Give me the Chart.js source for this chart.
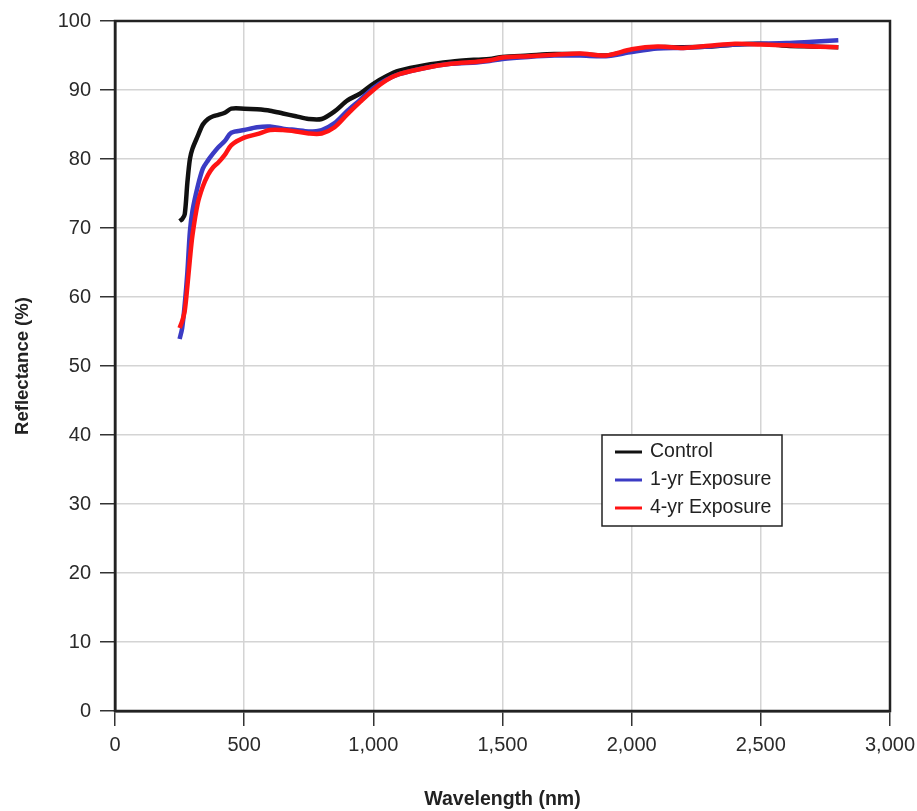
<!DOCTYPE html>
<html>
<head>
<meta charset="utf-8">
<script src="https://cdn.jsdelivr.net/npm/chart.js@4.4.1/dist/chart.umd.min.js"></script>
<style>
  html, body { margin: 0; padding: 0; background: #fff; }
  #wrap { width: 917px; height: 811px; }
</style>
</head>
<body>
<div id="wrap"><canvas id="reflChart" width="917" height="811"></canvas></div>
<script>
// wavelength samples (nm)
const wavelengths = [250, 260, 270, 280, 290, 300, 320, 340, 360, 380, 400, 425, 450, 500, 550, 600, 650, 700, 750, 800,
  850, 900, 950, 1000, 1050, 1100, 1200, 1300, 1400, 1450, 1500, 1600, 1700, 1800, 1900, 2000, 2100, 2200, 2300, 2400,
  2500, 2600, 2700, 2800];

const control = [71.0, 71.3, 72.0, 76.5, 80.0, 81.5, 83.3, 85.0, 85.8, 86.2, 86.4, 86.7, 87.3, 87.3, 87.2, 87.0, 86.6, 86.2, 85.8, 85.8,
  86.9, 88.5, 89.5, 90.9, 92.0, 92.8, 93.6, 94.1, 94.4, 94.5, 94.8, 95.0, 95.2, 95.2, 95.0, 95.7, 96.2, 96.2, 96.3, 96.6,
  96.7, 96.4, 96.3, 96.2];

const oneYear = [53.9, 55.5, 59.0, 63.5, 69.5, 72.5, 76.0, 78.6, 79.8, 80.8, 81.7, 82.6, 83.8, 84.2, 84.6, 84.7, 84.4, 84.2, 84.0, 84.2,
  85.2, 87.0, 88.6, 90.3, 91.5, 92.3, 93.2, 93.8, 94.0, 94.2, 94.5, 94.8, 95.0, 95.0, 94.9, 95.5, 96.0, 96.1, 96.3, 96.6,
  96.7, 96.8, 97.0, 97.2];

const fourYear = [55.5, 56.5, 58.0, 61.5, 65.5, 69.0, 73.5, 76.0, 77.7, 78.8, 79.5, 80.6, 82.0, 83.1, 83.6, 84.2, 84.2, 84.0, 83.7, 83.7,
  84.6, 86.5, 88.3, 90.0, 91.4, 92.3, 93.2, 93.8, 94.1, 94.3, 94.7, 94.9, 95.1, 95.3, 95.0, 95.9, 96.3, 96.1, 96.4, 96.7,
  96.6, 96.5, 96.3, 96.2];

const seriesLabels = ["Control", "1-yr Exposure", "4-yr Exposure"];
const seriesColors = ["#111111", "#3b3bc4", "#ff1414"];

const FONT = '"Liberation Sans", Arial, sans-serif';

function toPoints(vals) {
  return wavelengths.map((w, i) => ({ x: w, y: vals[i] }));
}

// frame around the plot + legend box inside the plot
const framePlugin = {
  id: "frame",
  afterDraw(chart) {
    const { ctx, chartArea: a } = chart;
    ctx.save();
    ctx.strokeStyle = "#222";
    ctx.lineWidth = 2.5;
    ctx.strokeRect(a.left, a.top, a.right - a.left, a.bottom - a.top);

    // legend
    const lx = 602, ly = 435, lw = 180, lh = 91;
    ctx.fillStyle = "#fff";
    ctx.fillRect(lx, ly, lw, lh);
    ctx.lineWidth = 1.5;
    ctx.strokeStyle = "#222";
    ctx.strokeRect(lx, ly, lw, lh);
    ctx.font = "19.5px " + FONT;
    ctx.textBaseline = "middle";
    chart.data.datasets.forEach((ds, i) => {
      const y = ly + 17 + i * 28;
      ctx.strokeStyle = ds.borderColor;
      ctx.lineWidth = 3;
      ctx.beginPath();
      ctx.moveTo(lx + 13, y);
      ctx.lineTo(lx + 40, y);
      ctx.stroke();
      ctx.fillStyle = "#222";
      ctx.fillText(ds.label, lx + 48, y);
    });
    ctx.restore();
  }
};

const ctx = document.getElementById("reflChart").getContext("2d");
new Chart(ctx, {
  type: "line",
  data: {
    datasets: [control, oneYear, fourYear].map((vals, i) => ({
      label: seriesLabels[i],
      data: toPoints(vals),
      borderColor: seriesColors[i],
      borderWidth: 4.5,
      pointRadius: 0,
      tension: 0.3,
      fill: false,
      order: 3 - i
    }))
  },
  options: {
    responsive: false,
    animation: false,
    layout: { padding: { left: 0, top: 15, right: 0, bottom: 0 } },
    plugins: {
      legend: { display: false },
      tooltip: { enabled: false }
    },
    scales: {
      x: {
        type: "linear",
        min: 0,
        max: 3000,
        afterFit(scale) {
          scale.height = 100;
          scale.paddingRight = 27;
          scale.paddingLeft = 0;
        },
        ticks: {
          stepSize: 500,
          padding: 7,
          color: "#2a2a2a",
          font: { family: FONT, size: 20 },
          callback: v => v.toLocaleString("en-US")
        },
        grid: { color: "#d4d4d4", lineWidth: 1.5, tickColor: "#333", tickLength: 15, tickWidth: 1.5 },
        border: { display: true, color: "#222", width: 2.5 },
        title: {
          display: true,
          text: "Wavelength (nm)",
          color: "#222",
          font: { family: FONT, size: 19.5, weight: "bold" },
          padding: { top: 3, bottom: 0 }
        }
      },
      y: {
        min: 0,
        max: 100,
        afterFit(scale) { scale.width = 115; },
        ticks: {
          stepSize: 10,
          padding: 9,
          color: "#2a2a2a",
          font: { family: FONT, size: 20 }
        },
        grid: { color: "#d4d4d4", lineWidth: 1.5, tickColor: "#333", tickLength: 15, tickWidth: 1.5 },
        border: { display: true, color: "#222", width: 2.5 },
        title: {
          display: true,
          text: "Reflectance (%)",
          color: "#222",
          font: { family: FONT, size: 18.5, weight: "bold" },
          padding: { top: 12, bottom: 0 }
        }
      }
    }
  },
  plugins: [framePlugin]
});
</script>
</body>
</html>
